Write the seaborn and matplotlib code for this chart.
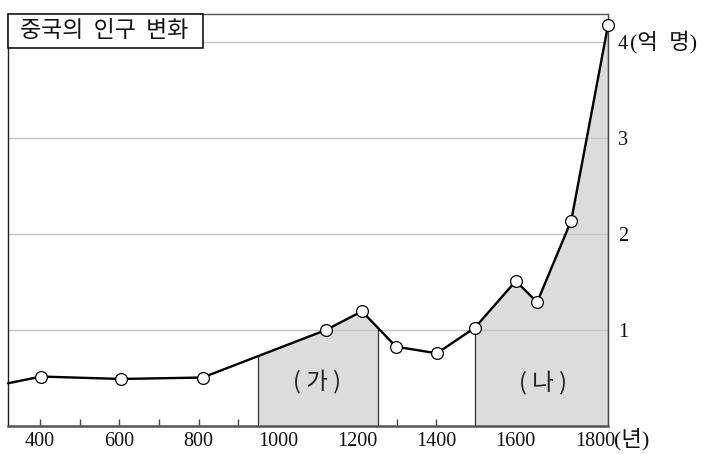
import numpy as np
import pandas as pd
import seaborn as sns
import matplotlib
matplotlib.use("Agg")
import matplotlib.pyplot as plt
from matplotlib.patches import Rectangle
from matplotlib.ticker import MultipleLocator

# ---- data ----
years = [319, 402, 605, 810, 1121, 1212, 1298, 1401, 1497, 1600, 1654, 1740, 1833]
population = [0.445, 0.515, 0.49, 0.505, 1.0, 1.195, 0.826, 0.757, 1.024, 1.51, 1.29, 2.14, 4.18]
x_tick_values = [400, 600, 800, 1000, 1200, 1400, 1600, 1800]
x_tick_labels = ["400", "600", "800", "1000", "1200", "1400", "1600", "1800"]
y_tick_values = [1, 2, 3, 4]
y_tick_labels = ["1", "2", "3", "4"]
region_names = ["( 가 )", "( 나 )"]
region_starts = [950, 1497]
region_ends = [1253, 1833]
region_label_x = [1099, 1669]
region_label_y = [0.46, 0.45]
title_text = "중국의  인구  변화"
x_unit = "(년)"
y_unit = "(억  명)"

sns.set_theme(style="white")
plt.rcParams["font.family"] = ["Liberation Serif", "Noto Sans CJK KR"]

fig = plt.figure(figsize=(7.06, 4.54), dpi=100)
ax = fig.add_axes([8 / 706, 28 / 454, 600.3 / 706, 412 / 454])

xmin, xmax = years[0], 1833.5
ymax = 4 + 28 / 96
ax.set_xlim(xmin, xmax)
ax.set_ylim(0, ymax)

df = pd.DataFrame({"year": years, "pop": population})

# shaded regions under the curve
for s, e in zip(region_starts, region_ends):
    xs = np.linspace(s, e, 300)
    ys = np.interp(xs, df["year"], df["pop"])
    ax.fill_between(xs, 0, ys, color="#dcdcdc", lw=0, zorder=1)
    for xv in (s, e):
        yv = np.interp(xv, df["year"], df["pop"])
        ax.plot([xv, xv], [0, yv], color="#333333", lw=0.9, zorder=2)

# gridlines
for yv in y_tick_values:
    ax.axhline(yv, color="#c4c4c4", lw=1.0, zorder=1.5)

sns.lineplot(data=df, x="year", y="pop", ax=ax, color="black", lw=1.7,
             marker="o", markevery=list(range(1, len(years))),
             markerfacecolor="white", markeredgecolor="black",
             markersize=8.5, markeredgewidth=0.9, zorder=5, clip_on=False)

# ticks
ax.xaxis.set_major_locator(plt.FixedLocator(x_tick_values))
ax.set_xticklabels(x_tick_labels)
ax.xaxis.set_minor_locator(MultipleLocator(100))
ax.tick_params(axis="x", which="both", direction="in", length=5, width=1,
               color="#444444", bottom=True, top=False, labelsize=14.5, pad=4,
               labelcolor="#111111")
ax.yaxis.tick_right()
ax.set_yticks(y_tick_values)
ax.set_yticklabels(y_tick_labels)
ax.tick_params(axis="y", which="both", length=0, pad=7, labelsize=14.5,
               labelcolor="#111111")
ax.set_xlabel("")
ax.set_ylabel("")

ax.text((614 - 8) / 600.3, (426 - 439.5) / 412, x_unit, transform=ax.transAxes,
        ha="left", va="center", fontsize=16, color="#111111")
ax.text((629.5 - 8) / 600.3, (426 - 42.5) / 412, y_unit, transform=ax.transAxes,
        ha="left", va="center", fontsize=16, color="#111111")

# spines
for side, col, lw in [("left", "#222222", 1.0), ("top", "#555555", 1.0),
                      ("right", "#444444", 1.0), ("bottom", "#555555", 1.8)]:
    ax.spines[side].set_visible(True)
    ax.spines[side].set_color(col)
    ax.spines[side].set_linewidth(lw)

# region labels
for name, lx, ly in zip(region_names, region_label_x, region_label_y):
    ax.text(lx, ly, name, ha="center", va="center", fontsize=17,
            family=["Noto Sans CJK KR"], color="#222222", zorder=6)

# title box
ax.add_patch(Rectangle((0, (426 - 48.3) / 412), (203 - 8) / 600.3, 1 - (426 - 48.3) / 412,
                       transform=ax.transAxes, facecolor="white", edgecolor="black",
                       lw=1.1, zorder=7, clip_on=False))
ax.text((104 - 8) / 600.3, (426 - 30.5) / 412, title_text, transform=ax.transAxes,
        ha="center", va="center", fontsize=16.5, family=["Noto Sans CJK KR"],
        color="#111111", zorder=8)

fig.savefig("out.png", dpi=100)
